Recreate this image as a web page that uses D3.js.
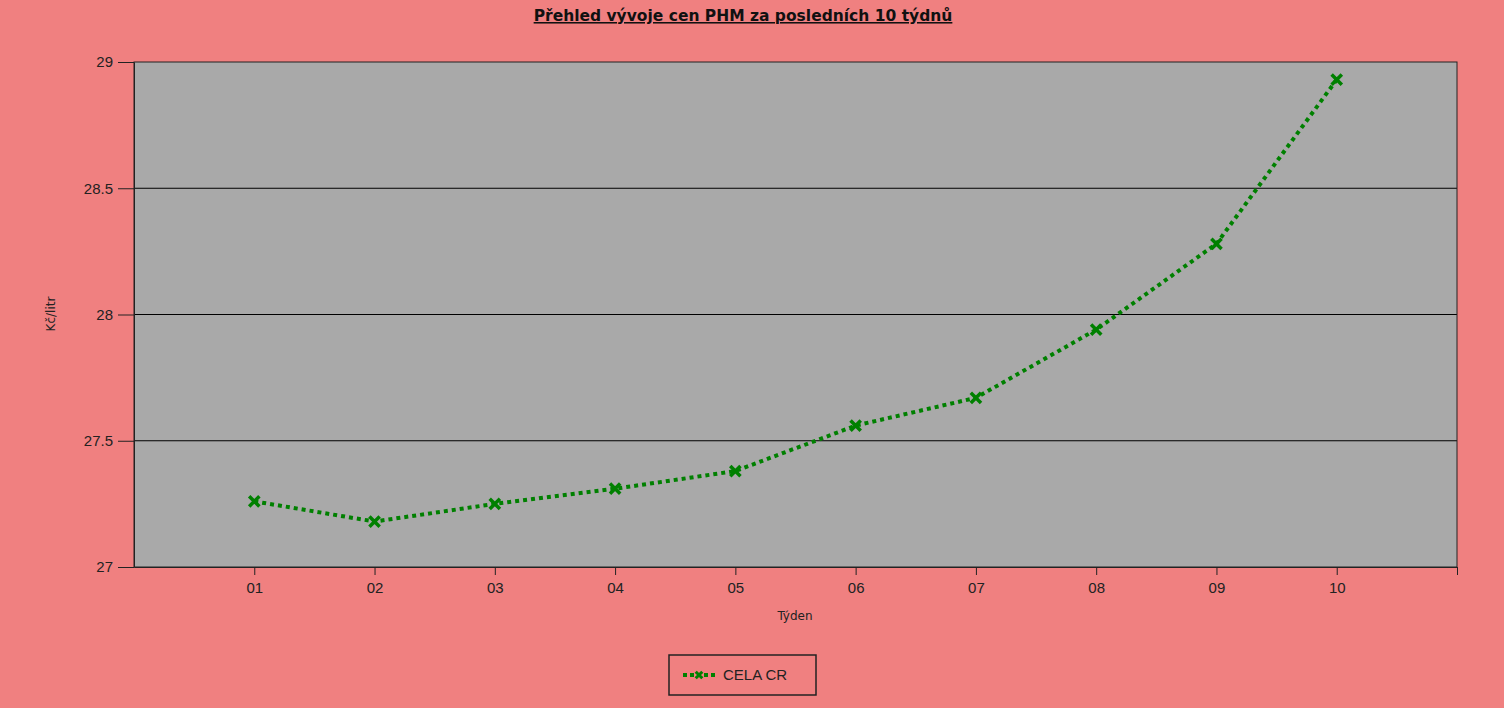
<!DOCTYPE html>
<html>
<head>
<meta charset="utf-8">
<script src="https://cdn.jsdelivr.net/npm/d3@7"></script>
<style>
  body { margin: 0; background: #F08080; }
  svg { display: block; }
</style>
</head>
<body>
<div id="chart"></div>
<script>
// data
const weeks = ['01', '02', '03', '04', '05', '06', '07', '08', '09', '10'];
const prices = [27.26, 27.18, 27.25, 27.31, 27.38, 27.56, 27.67, 27.94, 28.28, 28.93];
const yTicks = [27, 27.5, 28, 28.5, 29];
const seriesName = 'CELA CR';

const width = 1504, height = 708;
const margin = {top: 62, right: 47, bottom: 141, left: 134};
const innerW = width - margin.left - margin.right;
const innerH = height - margin.top - margin.bottom;
const font = "Tahoma, 'DejaVu Sans', sans-serif";
const tickFont = "'Liberation Sans', Arial, sans-serif";

const svg = d3.select('#chart').append('svg')
    .attr('width', width)
    .attr('height', height);

svg.append('rect')
    .attr('width', width).attr('height', height)
    .attr('fill', '#F08080');

// title
svg.append('text')
    .attr('x', 743).attr('y', 21)
    .attr('text-anchor', 'middle')
    .attr('font-family', font)
    .attr('font-size', 15.5)
    .attr('font-weight', 'bold')
    .attr('text-decoration', 'underline')
    .attr('fill', '#111')
    .text('Přehled vývoje cen PHM za posledních 10 týdnů');

const g = svg.append('g')
    .attr('transform', `translate(${margin.left},${margin.top})`);

// scales
const x = d3.scaleLinear().domain([0, weeks.length + 1]).range([0, innerW]);
const y = d3.scaleLinear().domain([27, 29]).range([innerH, 0]);

g.append('rect')
    .attr('width', innerW).attr('height', innerH)
    .attr('fill', '#A9A9A9');

// gridlines
g.selectAll('.grid')
    .data(yTicks.slice(1, -1))
    .join('line')
    .attr('class', 'grid')
    .attr('x1', 0).attr('x2', innerW)
    .attr('y1', d => y(d)).attr('y2', d => y(d))
    .attr('stroke', '#000').attr('stroke-width', 1);

g.append('rect')
    .attr('width', innerW).attr('height', innerH)
    .attr('fill', 'none')
    .attr('stroke', '#222').attr('stroke-width', 1);

// axes
const xAxis = d3.axisBottom(x)
    .tickValues(d3.range(1, weeks.length + 2))
    .tickFormat(d => weeks[d - 1] || '')
    .tickSize(8).tickSizeOuter(0);

const yAxis = d3.axisLeft(y)
    .tickValues(yTicks)
    .tickFormat(d3.format('~g'))
    .tickSize(16).tickSizeOuter(0);

const gx = g.append('g')
    .attr('transform', `translate(0,${innerH})`)
    .call(xAxis);
const gy = g.append('g').call(yAxis);

[gx, gy].forEach(a => {
    a.select('.domain').attr('stroke', '#222');
    a.selectAll('.tick line').attr('stroke', '#222');
    a.selectAll('.tick text')
        .attr('fill', '#222')
        .attr('font-family', tickFont)
        .attr('font-size', 15);
});
gx.selectAll('.tick text').attr('dy', '1.0em');
gy.selectAll('.tick text').attr('x', -21);

// axis titles
svg.append('text')
    .attr('x', 795).attr('y', 620)
    .attr('text-anchor', 'middle')
    .attr('font-family', font).attr('font-size', 12)
    .attr('fill', '#222')
    .text('Týden');

svg.append('text')
    .attr('transform', 'translate(55,314) rotate(-90)')
    .attr('text-anchor', 'middle')
    .attr('font-family', font).attr('font-size', 12)
    .attr('fill', '#222')
    .text('Kč/litr');

// line
const line = d3.line()
    .x((d, i) => x(i + 1))
    .y(d => y(d));

g.append('path')
    .datum(prices)
    .attr('d', line)
    .attr('fill', 'none')
    .attr('stroke', '#008000')
    .attr('stroke-width', 4)
    .attr('stroke-dasharray', '4,4');

const cross = d3.symbol().type(d3.symbolX).size(70);
g.selectAll('.marker')
    .data(prices)
    .join('path')
    .attr('class', 'marker')
    .attr('transform', (d, i) => `translate(${x(i + 1)},${y(d)})`)
    .attr('d', cross)
    .attr('fill', 'none')
    .attr('stroke', '#008000')
    .attr('stroke-width', 3.5);

// legend
const lg = svg.append('g').attr('transform', 'translate(669,655)');
lg.append('rect')
    .attr('width', 147).attr('height', 40)
    .attr('fill', 'none')
    .attr('stroke', '#222').attr('stroke-width', 1.5);
lg.append('line')
    .attr('x1', 14).attr('x2', 46)
    .attr('y1', 20).attr('y2', 20)
    .attr('stroke', '#008000').attr('stroke-width', 4)
    .attr('stroke-dasharray', '4,3');
lg.append('path')
    .attr('transform', 'translate(30,20)')
    .attr('d', d3.symbol().type(d3.symbolX).size(30))
    .attr('fill', 'none')
    .attr('stroke', '#008000').attr('stroke-width', 3);
lg.append('text')
    .attr('x', 54).attr('y', 25)
    .attr('font-family', tickFont).attr('font-size', 15)
    .attr('fill', '#222')
    .text(seriesName);
</script>
</body>
</html>
